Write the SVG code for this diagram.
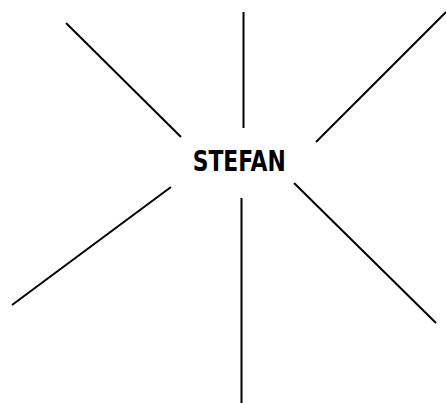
<svg xmlns="http://www.w3.org/2000/svg" width="446" height="403" viewBox="0 0 446 403">
<style>
.c line{stroke:#000;stroke-width:2;fill:none}
.t{font-family:"DejaVu Sans Condensed","DejaVu Sans",sans-serif;font-weight:bold;font-size:29px;fill:#000}
</style>
<rect width="446" height="403" fill="#fff"/>
<g id="connectors" class="c">
<line x1="66" y1="23" x2="181" y2="137"/>
<line x1="243.5" y1="12" x2="243.5" y2="128"/>
<line x1="446" y1="12" x2="316" y2="142"/>
<line x1="171" y1="187" x2="12" y2="305"/>
<line x1="241.5" y1="198" x2="241.5" y2="403"/>
<line x1="294" y1="183" x2="436" y2="323"/>
</g>
<g id="stefan">
<text class="t" x="239.2" y="170.5" text-anchor="middle" textLength="93" lengthAdjust="spacingAndGlyphs">STEFAN</text>
</g>
</svg>
